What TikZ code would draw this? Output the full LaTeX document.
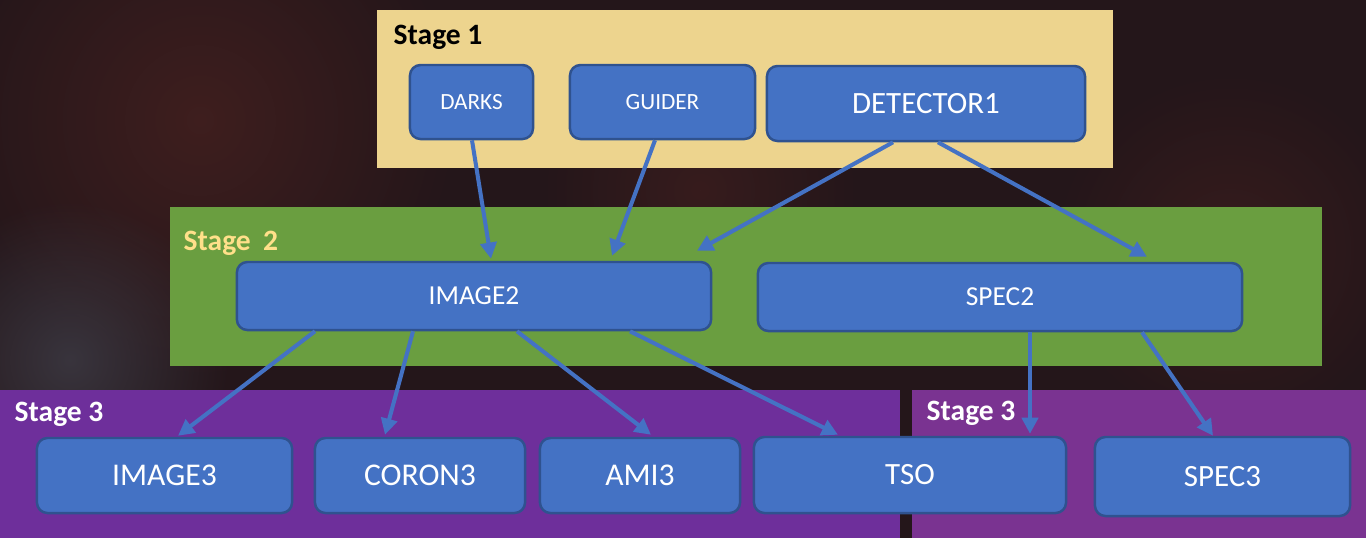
\documentclass[tikz,border=0pt]{standalone}
\usepackage{fontspec}
\setmainfont{Carlito}
\usetikzlibrary{arrows.meta,fadings}
\definecolor{boxblue}{HTML}{4472C4}
\definecolor{boxedge}{HTML}{2F528F}
\definecolor{stageyellow}{HTML}{EDD48E}
\definecolor{stagegreen}{HTML}{6A9E40}
\definecolor{stagepurple}{HTML}{6E2F9B}
\definecolor{stagepurpleb}{HTML}{7A3391}
\definecolor{labelyellow}{HTML}{FFE08A}
\definecolor{skydark}{HTML}{24161A}
\definecolor{skyred}{HTML}{4A2220}
\definecolor{skygrey}{HTML}{3E3C46}
\tikzfading[name=softblob, inner color=transparent!0, outer color=transparent!100]
\begin{document}
\begin{tikzpicture}[x=0.01cm,y=-0.01cm,
  box/.style={draw=boxedge, line width=0.7pt, fill=boxblue, rounded corners=3pt,
              text=white, inner sep=0pt, anchor=center},
  flow/.style={draw=boxblue, line width=1.15pt, -{Triangle[length=4.6pt,width=4.6pt]}},
  stagelabel/.style={font=\bfseries\fontsize{8.4pt}{10pt}\selectfont, anchor=base west, inner sep=0pt},
  blob/.style={path fading=softblob}]
\useasboundingbox (0,0) rectangle (1366,538);
% background sky
\fill[skydark] (0,0) rectangle (1366,538);
\fill[skyred, opacity=0.7, blob] (200,120) circle (260);
\fill[skyred, opacity=0.5, blob] (1230,250) circle (180);
\fill[skygrey, opacity=0.8, blob] (70,360) circle (160);
\fill[skyred, opacity=0.5, blob] (700,190) circle (160);
% stage panels
\fill[stageyellow] (377,10) rectangle (1113,168);
\fill[stagegreen] (170,207) rectangle (1322,366);
\fill[stagepurple] (0,390) rectangle (900,538);
\fill[stagepurpleb] (912,390) rectangle (1366,538);
% stage labels
\node[stagelabel, text=black] (s1) at (393,44) {Stage 1};
\node[stagelabel, text=labelyellow] (s2) at (183,250) {Stage\hspace{0.42em}2};
\node[stagelabel, text=white] (s3a) at (14,421) {Stage 3};
\node[stagelabel, text=white] (s3b) at (926,420) {Stage 3};
% boxes
\node[box, minimum width=1.23cm, minimum height=0.74cm, font=\fontsize{6.6pt}{8pt}\selectfont] (darks) at (471.5,102) {DARKS};
\node[box, minimum width=1.85cm, minimum height=0.74cm, font=\fontsize{6.6pt}{8pt}\selectfont] (guider) at (662.5,102) {GUIDER};
\node[box, minimum width=3.18cm, minimum height=0.75cm, font=\fontsize{8.8pt}{10pt}\selectfont] (det) at (926,103.5) {DETECTOR1};
\node[box, minimum width=4.74cm, minimum height=0.68cm, font=\fontsize{7.8pt}{9pt}\selectfont] (image2) at (474,296) {IMAGE2};
\node[box, minimum width=4.84cm, minimum height=0.68cm, font=\fontsize{7.8pt}{9pt}\selectfont] (spec2) at (1000,297) {SPEC2};
\node[box, minimum width=2.55cm, minimum height=0.75cm, font=\fontsize{9pt}{10pt}\selectfont] (image3) at (164.5,475.5) {IMAGE3};
\node[box, minimum width=2.10cm, minimum height=0.75cm, font=\fontsize{9pt}{10pt}\selectfont] (coron3) at (420,475.5) {CORON3};
\node[box, minimum width=2.00cm, minimum height=0.75cm, font=\fontsize{9pt}{10pt}\selectfont] (ami3) at (640,475.5) {AMI3};
\node[box, minimum width=3.12cm, minimum height=0.76cm, font=\fontsize{8.8pt}{10pt}\selectfont] (tso) at (910,475) {TSO};
\node[box, minimum width=2.55cm, minimum height=0.79cm, font=\fontsize{8.8pt}{10pt}\selectfont] (spec3) at (1222.5,476.5) {SPEC3};
% connectors
\draw[flow] ([shift={(0.5,0)}]darks.south) -- ([shift={(17,-2)}]image2.north);
\draw[flow] ([shift={(-7.5,0)}]guider.south) -- ([shift={(138,-5)}]image2.north);
\draw[flow] ([shift={(-33,0)}]det.south) -- ([shift={(223,-10)}]image2.north);
\draw[flow] ([shift={(12,0)}]det.south) -- ([shift={(147,-5)}]spec2.north);
\draw[flow] ([shift={(-159,0)}]image2.south) -- ([shift={(13.5,-1)}]image3.north);
\draw[flow] ([shift={(-61,0)}]image2.south) -- ([shift={(-35,-2)}]coron3.north);
\draw[flow] ([shift={(43,0)}]image2.south) -- ([shift={(11,-2)}]ami3.north);
\draw[flow] ([shift={(156,0)}]image2.south) -- ([shift={(-72,-1)}]tso.north);
\draw[flow] ([shift={(30,0)}]spec2.south) -- ([shift={(120,-2)}]tso.north);
\draw[flow] ([shift={(142,0)}]spec2.south) -- ([shift={(-9.5,0)}]spec3.north);
\end{tikzpicture}
\end{document}
